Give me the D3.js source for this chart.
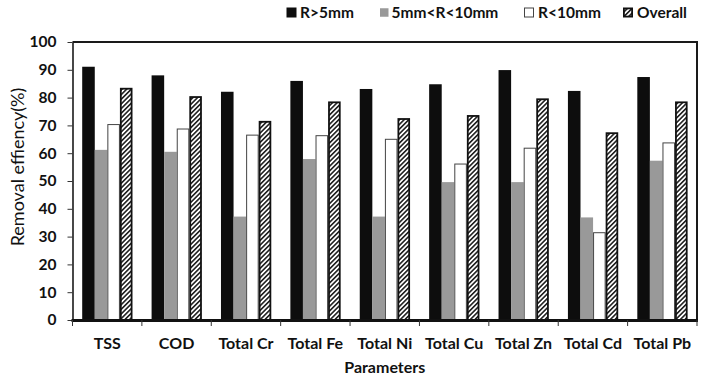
<!DOCTYPE html>
<html><head><meta charset="utf-8">
<script src="https://cdn.jsdelivr.net/npm/d3@7"></script>
<style>body{margin:0;background:#fff} svg{display:block}</style>
</head><body><svg id="c" width="717" height="382"></svg>
<script>
const categories = ["TSS","COD","Total Cr","Total Fe","Total Ni","Total Cu","Total Zn","Total Cd","Total Pb"];
const seriesNames = ["R>5mm","5mm<R<10mm","R<10mm","Overall"];
const r5 = [91.1,88.0,82.1,86.0,83.1,84.8,89.9,82.4,87.4];
const r5to10 = [61.2,60.5,37.2,57.9,37.2,49.6,49.6,36.9,57.3];
const r10 = [70.3,68.7,66.5,66.3,65.0,56.1,61.8,31.4,63.7];
const overall = [83.2,80.2,71.3,78.3,72.3,73.4,79.4,67.2,78.3];
const yTicks = [0,10,20,30,40,50,60,70,80,90,100];
const yTitle = "Removal effiency(%)";
const xTitle = "Parameters";

(function(){
const seriesValues = [r5, r5to10, r10, overall];
const FONT = "Lato, 'Open Sans', sans-serif";
const svg = d3.select("#c");

const defs = svg.append("defs");
const hs = 3.3;
defs.append("pattern").attr("id","hatch").attr("patternUnits","userSpaceOnUse")
  .attr("width",hs).attr("height",hs).attr("patternTransform","rotate(45)")
  .call(p=>{ p.append("rect").attr("width",hs).attr("height",hs).attr("fill","#fff");
             p.append("line").attr("x1",0.8).attr("y1",0).attr("x2",0.8).attr("y2",hs)
               .attr("stroke","#111").attr("stroke-width",1.5); });

const styles = [
  {fill:"#0d0d0d", stroke:"none", sw:0},
  {fill:"#999999", stroke:"none", sw:0},
  {fill:"#ffffff", stroke:"#444", sw:1},
  {fill:"url(#hatch)", stroke:"#111", sw:1.8}
];

const pl = 72.5, pr = 697, pt = 42, pb = 320;
const x = d3.scaleBand().domain(categories).range([pl, pr]).padding(0);
const xs = d3.scaleBand().domain(seriesNames).range([9.7, 60]).padding(0);
const y = d3.scaleLinear().domain([0,100]).range([pb, pt]);

// bars
seriesNames.forEach((s, si) => {
  const st = styles[si];
  svg.append("g").selectAll("rect").data(categories).join("rect")
    .attr("x", c => x(c) + xs(s) + st.sw/2)
    .attr("width", xs.bandwidth() - st.sw)
    .attr("y", (c, i) => y(seriesValues[si][i]))
    .attr("height", (c, i) => pb - y(seriesValues[si][i]))
    .attr("fill", st.fill).attr("stroke", st.stroke).attr("stroke-width", st.sw);
});

// frame: top and right
svg.append("line").attr("x1",pl).attr("x2",pr).attr("y1",pt).attr("y2",pt)
  .attr("stroke","#1a1a1a").attr("stroke-width",2);
svg.append("line").attr("x1",pr).attr("x2",pr).attr("y1",pt-1).attr("y2",pb)
  .attr("stroke","#1a1a1a").attr("stroke-width",2);

// y axis
const yAxis = svg.append("g").attr("transform",`translate(${pl},0)`)
  .call(d3.axisLeft(y).tickValues(yTicks).tickSize(5).tickPadding(11).tickSizeOuter(0));
yAxis.select(".domain").attr("stroke","#1a1a1a").attr("stroke-width",1.6);
yAxis.selectAll(".tick line").attr("stroke","#333").attr("stroke-width",1);
yAxis.selectAll("text").attr("font-family",FONT).attr("font-weight","bold")
  .attr("font-size",15.5).attr("fill","#111");

// x axis
const xAxis = svg.append("g").attr("transform",`translate(0,${pb})`)
  .call(d3.axisBottom(x).tickSize(0).tickPadding(18));
xAxis.select(".domain").remove();
xAxis.selectAll("text").attr("font-family",FONT).attr("font-weight","bold")
  .attr("font-size",16).attr("fill","#111");
svg.append("line").attr("x1",pl-1).attr("x2",pr+1).attr("y1",pb+0.5).attr("y2",pb+0.5)
  .attr("stroke","#111").attr("stroke-width",3);
const bounds = categories.map(c => x(c)).concat([x.range()[1]]);
svg.append("g").selectAll("line").data(bounds).join("line")
  .attr("x1", d=>d).attr("x2", d=>d).attr("y1", pb).attr("y2", pb+6)
  .attr("stroke","#333").attr("stroke-width",1);

// axis titles
svg.append("text").attr("x",(pl+pr)/2).attr("y",373).attr("text-anchor","middle")
  .attr("font-family",FONT).attr("font-weight","bold").attr("font-size",16).attr("fill","#111")
  .text(xTitle);
svg.append("text").attr("transform","translate(23.5,167) rotate(-90)").attr("text-anchor","middle")
  .attr("font-family",FONT).attr("font-size",18).attr("fill","#111").text(yTitle);

// legend
const legendX = [286.5, 380, 524, 623];
const legendTX = [300, 391.5, 538, 637];
const lg = svg.append("g");
seriesNames.forEach((s, si) => {
  const st = styles[si];
  const sz = si === 1 ? 8.5 : 10;
  lg.append("rect").attr("x", legendX[si] + st.sw/2).attr("y", 7.5 + (10-sz)/2 + st.sw/2)
    .attr("width", sz - st.sw).attr("height", sz - st.sw)
    .attr("fill", st.fill).attr("stroke", st.stroke).attr("stroke-width", st.sw);
  lg.append("text").attr("x", legendTX[si]).attr("y", 18)
    .attr("font-family",FONT).attr("font-weight","bold").attr("font-size",15.5).attr("fill","#111")
    .text(s);
});
})();
</script>
</body></html>
